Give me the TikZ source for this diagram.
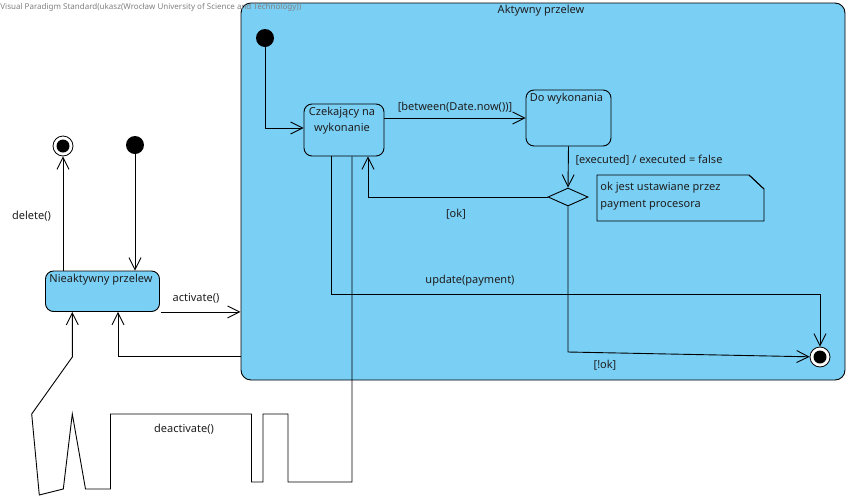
\documentclass[tikz,border=0pt]{standalone}
\usepackage{fontspec}
\setmainfont{Noto Sans}
\usetikzlibrary{arrows.meta,shapes.geometric,calc}
\definecolor{stfill}{RGB}{122,207,245}
\definecolor{txt}{RGB}{30,30,30}
\definecolor{wm}{RGB}{128,128,128}
\begin{document}
\begin{tikzpicture}[x=1pt,y=-1pt,
  line width=0.9pt,
  every node/.style={font=\fontsize{11}{13}\selectfont,text=txt,inner sep=0pt},
  arr/.style={-{Straight Barb[length=12pt,width=12pt,line width=0.9pt]}},
  statebox/.style={draw,fill=stfill,rounded corners=8pt,minimum width=#1},
  initst/.style={circle,fill=black,minimum size=18pt},
  finst/.style={circle,draw,fill=white,minimum size=20pt,line width=0.8pt,
    path picture={\fill[black] (path picture bounding box.center) circle (6.5pt);}},
  lbl/.style={anchor=center}]
\useasboundingbox (0,0) rectangle (847,499);
\fill[white] (0,0) rectangle (847,499);

% composite state
\node[draw,fill=stfill,rounded corners=10pt,minimum width=604pt,minimum height=377pt] (comp) at (543,191.5) {};
\node[lbl] (comptitle) at (541,11) {Aktywny przelew};

% inner states
\node[initst] (init1) at (265,38) {};
\node[statebox=80pt,minimum height=52pt,align=center] (czek) at (344,130) {};
\node[lbl,align=center] (czektxt) at (342,120.5) {Czekający na\\[3pt]wykonanie};
\node[statebox=85pt,minimum height=56pt] (dowyk) at (568.5,118) {};
\node[lbl] (dowyktxt) at (566.5,98.5) {Do wykonania};
\node[diamond,draw,fill=stfill,minimum width=40pt,minimum height=18pt,aspect=2.2] (dec) at (568,197) {};
\node[finst] (fin1) at (820,357) {};

% note
\draw[fill=stfill] (597,175) -- (749,175) -- (764,189) -- (764,221) -- (597,221) -- cycle;
\draw (749,175) -- (764,189);
\node[anchor=west,align=left] (notetxt) at (600,196) {ok jest ustawiane przez\\[4pt]payment procesora};

% outer states
\node[statebox=114pt,minimum height=40.5pt] (nieakt) at (102.5,291.25) {};
\node[lbl] (nieakttxt) at (101,279.5) {Nieaktywny przelew};
\node[initst] (init0) at (135,145) {};
\node[finst] (fin0) at (63,146) {};

% corner points of routed connectors
\coordinate (nokcorner) at (568,352);
\coordinate (updcorner) at (820,294);
\coordinate (okx) at ([xshift=24pt]czek.south);

% transitions inside the composite state
\draw[arr] (init1.south) |- ([yshift=2pt]czek.west);
\draw[arr] (czek.east |- dowyk.west) -- (dowyk.west);
\draw[arr] (dowyk.south) -- (dec.north);
\draw[arr] (dec.west) -| (okx);
\draw[arr] (dec.south) -- (nokcorner) -- (fin1);
\draw[arr] ([xshift=-13pt]czek.south) |- (updcorner) -- (fin1.north);

\node[lbl] (l1) at (455,107) {[between(Date.now())]};
\node[lbl] (l2) at (649,160.5) {[executed] / executed = false};
\node[lbl] (l3) at (456,214) {[ok]};
\node[lbl] (l4) at (605,365.5) {[!ok]};
\node[lbl] (l5) at (470,281) {update(payment)};

% transitions outside
\draw[arr] (init0.south) -- (init0 |- nieakt.north);
\draw[arr] (fin0 |- nieakt.north) -- (fin0.south);
\draw[arr] ([xshift=1pt]nieakt.south east) -- (nieakt.south east -| comp.west);
\draw[arr] ([yshift=24pt]comp.south west) -| ([xshift=15.5pt]nieakt.south);
\draw[arr] ([xshift=8pt]czek.south) -- (352,482) -- (288,482) -- (288,414) -- (263,414)
  -- (263,482) -- (251.5,482) -- (251.5,414) -- (110.5,414) -- (110.5,489) -- (85.5,489)
  -- (72.3,414) -- (63.3,489) -- (39.3,495) -- (31.7,414) -- (72.3,357)
  -- ([xshift=-30.2pt]nieakt.south);

\node[lbl] (l6) at (196,298) {activate()};
\node[lbl] (l7) at (31.5,216.5) {delete()};
\node[lbl] (l8) at (184,429.5) {deactivate()};

% header line
\node[anchor=west,font=\fontsize{8}{9}\selectfont,text=wm] (wmk) at (0,7) {Visual Paradigm Standard(ukasz(Wrocław University of Science and Technology))};
\end{tikzpicture}
\end{document}
